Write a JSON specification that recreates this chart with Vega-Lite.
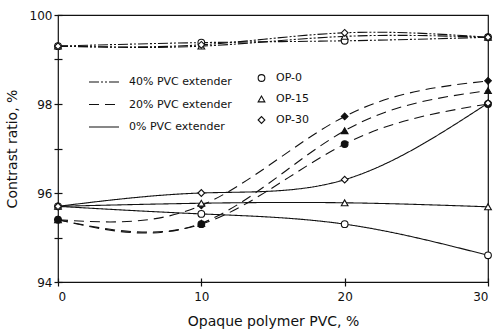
{
  "$schema": "https://vega.github.io/schema/vega-lite/v6.json",
  "autosize": {"type": "none"},
  "width": 430,
  "height": 267,
  "padding": {"left": 58, "top": 15, "right": 5, "bottom": 51},
  "background": "white",
  "config": {
    "view": {"stroke": "#111", "strokeWidth": 1.2},
    "font": "DejaVu Sans",
    "axis": {"labelFont": "DejaVu Sans", "titleFont": "DejaVu Sans", "labelColor": "#111", "titleColor": "#111", "tickColor": "#111", "titleFontWeight": "normal", "labelFontSize": 12, "titleFontSize": 14, "grid": false, "domain": false, "tickWidth": 1.2},
    "legend": {"labelFont": "DejaVu Sans", "labelFontSize": 11, "labelColor": "#111"}
  },
  "data": {
    "values": [
      {"pvc": 0, "cr": 99.3, "ext": "40% PVC extender", "op": "OP-0"},
      {"pvc": 10, "cr": 99.38, "ext": "40% PVC extender", "op": "OP-0"},
      {"pvc": 20, "cr": 99.42, "ext": "40% PVC extender", "op": "OP-0"},
      {"pvc": 30, "cr": 99.5, "ext": "40% PVC extender", "op": "OP-0"},
      {"pvc": 0, "cr": 99.3, "ext": "40% PVC extender", "op": "OP-15"},
      {"pvc": 10, "cr": 99.3, "ext": "40% PVC extender", "op": "OP-15"},
      {"pvc": 20, "cr": 99.52, "ext": "40% PVC extender", "op": "OP-15"},
      {"pvc": 30, "cr": 99.5, "ext": "40% PVC extender", "op": "OP-15"},
      {"pvc": 0, "cr": 99.3, "ext": "40% PVC extender", "op": "OP-30"},
      {"pvc": 10, "cr": 99.33, "ext": "40% PVC extender", "op": "OP-30"},
      {"pvc": 20, "cr": 99.6, "ext": "40% PVC extender", "op": "OP-30"},
      {"pvc": 30, "cr": 99.5, "ext": "40% PVC extender", "op": "OP-30"},
      {"pvc": 0, "cr": 95.4, "ext": "20% PVC extender", "op": "OP-0"},
      {"pvc": 10, "cr": 95.3, "ext": "20% PVC extender", "op": "OP-0"},
      {"pvc": 20, "cr": 97.1, "ext": "20% PVC extender", "op": "OP-0"},
      {"pvc": 30, "cr": 98.0, "ext": "20% PVC extender", "op": "OP-0"},
      {"pvc": 0, "cr": 95.4, "ext": "20% PVC extender", "op": "OP-15"},
      {"pvc": 10, "cr": 95.32, "ext": "20% PVC extender", "op": "OP-15"},
      {"pvc": 20, "cr": 97.4, "ext": "20% PVC extender", "op": "OP-15"},
      {"pvc": 30, "cr": 98.3, "ext": "20% PVC extender", "op": "OP-15"},
      {"pvc": 0, "cr": 95.4, "ext": "20% PVC extender", "op": "OP-30"},
      {"pvc": 10, "cr": 95.72, "ext": "20% PVC extender", "op": "OP-30"},
      {"pvc": 20, "cr": 97.72, "ext": "20% PVC extender", "op": "OP-30"},
      {"pvc": 30, "cr": 98.52, "ext": "20% PVC extender", "op": "OP-30"},
      {"pvc": 0, "cr": 95.7, "ext": "0% PVC extender", "op": "OP-0"},
      {"pvc": 10, "cr": 95.53, "ext": "0% PVC extender", "op": "OP-0"},
      {"pvc": 20, "cr": 95.3, "ext": "0% PVC extender", "op": "OP-0"},
      {"pvc": 30, "cr": 94.6, "ext": "0% PVC extender", "op": "OP-0"},
      {"pvc": 0, "cr": 95.7, "ext": "0% PVC extender", "op": "OP-15"},
      {"pvc": 10, "cr": 95.77, "ext": "0% PVC extender", "op": "OP-15"},
      {"pvc": 20, "cr": 95.78, "ext": "0% PVC extender", "op": "OP-15"},
      {"pvc": 30, "cr": 95.69, "ext": "0% PVC extender", "op": "OP-15"},
      {"pvc": 0, "cr": 95.7, "ext": "0% PVC extender", "op": "OP-30"},
      {"pvc": 10, "cr": 96.0, "ext": "0% PVC extender", "op": "OP-30"},
      {"pvc": 20, "cr": 96.3, "ext": "0% PVC extender", "op": "OP-30"},
      {"pvc": 30, "cr": 98.02, "ext": "0% PVC extender", "op": "OP-30"}
    ]
  },
  "encoding": {
    "x": {
      "field": "pvc", "type": "quantitative",
      "scale": {"domain": [0, 30], "nice": false},
      "axis": {"title": "Opaque polymer PVC, %", "values": [0, 10, 20, 30], "format": "d", "offset": -4, "tickSize": 8, "labelPadding": 5, "titlePadding": 12}
    },
    "y": {
      "field": "cr", "type": "quantitative",
      "scale": {"domain": [94, 100], "nice": false, "zero": false},
      "axis": {"title": "Contrast ratio, %", "values": [94, 94.5, 95, 95.5, 96, 96.5, 97, 97.5, 98, 98.5, 99, 99.5, 100], "format": "d", "labelExpr": "datum.value % 2 == 0 ? datum.label : ''", "offset": -4, "tickSize": 8, "labelPadding": 2, "titlePadding": 10}
    }
  },
  "layer": [
    {
      "mark": {"type": "line", "interpolate": "natural", "color": "#111", "strokeWidth": 1.1},
      "encoding": {
        "detail": {"field": "op"},
        "strokeDash": {
          "field": "ext", "type": "nominal",
          "scale": {"domain": ["40% PVC extender", "20% PVC extender", "0% PVC extender"], "range": [[10, 2, 2, 2, 2, 2], [10, 6], [1, 0]]},
          "legend": {"title": null, "orient": "none", "legendX": 30, "legendY": 57, "symbolSize": 900, "clipHeight": 20, "rowPadding": 2.5, "labelOffset": 9, "symbolStrokeColor": "#111", "symbolStrokeWidth": 1.1, "labelExpr": "datum.label == '0% PVC extender' ? '\u2007\u20070% PVC extender' : datum.label"}
        }
      }
    },
    {
      "mark": {"type": "point", "filled": true, "stroke": "#111", "strokeWidth": 1.1, "size": 45, "opacity": 1},
      "encoding": {
        "shape": {
          "field": "op", "type": "nominal",
          "scale": {"domain": ["OP-0", "OP-15", "OP-30"], "range": ["circle", "triangle-up", "diamond"]},
          "legend": {"title": null, "orient": "none", "legendX": 198, "legendY": 55, "symbolSize": 45, "clipHeight": 16, "rowPadding": 5, "labelOffset": 9, "symbolFillColor": "white", "symbolStrokeColor": "#111", "symbolStrokeWidth": 1.1}
        },
        "fill": {
          "field": "ext", "type": "nominal",
          "scale": {"domain": ["40% PVC extender", "20% PVC extender", "0% PVC extender"], "range": ["white", "#111", "white"]},
          "legend": null
        }
      }
    }
  ]
}
